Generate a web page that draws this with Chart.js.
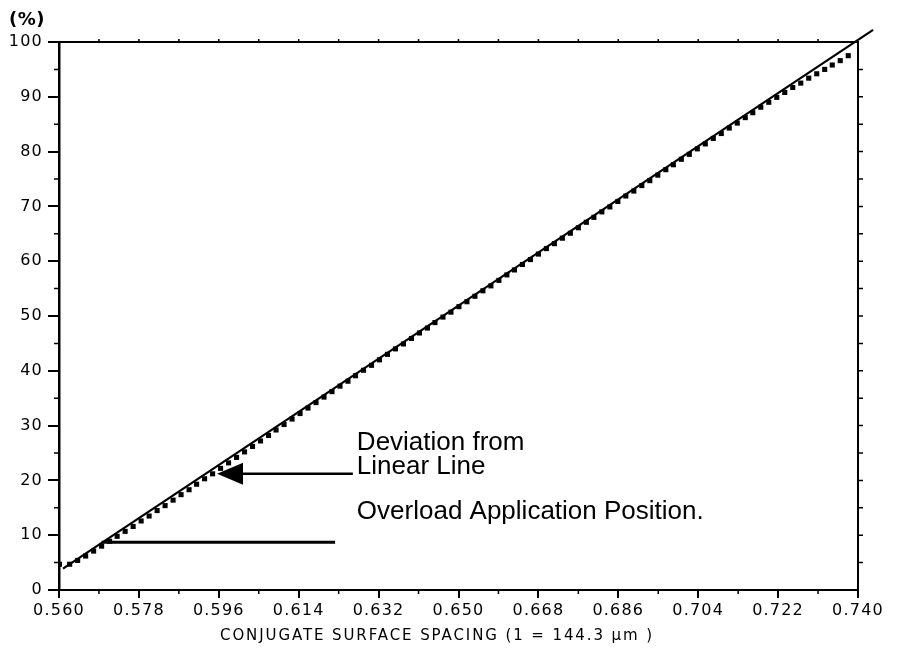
<!DOCTYPE html>
<html><head><meta charset="utf-8">
<style>html,body{margin:0;padding:0;background:#fff;}#wrap{width:899px;height:651px;}</style>
<script src="https://cdn.jsdelivr.net/npm/chart.js@4/dist/chart.umd.min.js"></script>
</head><body><div id="wrap"><canvas id="c" width="899" height="651"></canvas></div>
<script>
const xTicks = [0.560,0.578,0.596,0.614,0.632,0.650,0.668,0.686,0.704,0.722,0.740];
const xMinorTicks = [0.569,0.587,0.605,0.623,0.641,0.659,0.677,0.695,0.713,0.731];
const topTicks = [0.569,0.578,0.587,0.596,0.605,0.614,0.623,0.632,0.641,0.650,0.659,0.668,0.677,0.686,0.695,0.704,0.713,0.722,0.731];
const yTicks = [0,10,20,30,40,50,60,70,80,90,100];
const yMinorTicks = [5,15,25,35,45,55,65,75,85,95];
const rightTicks = [5,10,15,20,25,30,35,40,45,50,55,60,65,70,75,80,85,90,95];

const dotX = [0.5601,0.5624,0.5642,0.5660,0.5678,0.5696,0.5714,0.5731,0.5749,0.5767,0.5785,
0.5803,0.5821,0.5839,0.5857,0.5875,0.5893,0.5910,0.5928,0.5946,0.5964,
0.5982,0.6000,0.6018,0.6036,0.6054,0.6072,0.6089,0.6107,0.6125,0.6143,
0.6161,0.6179,0.6197,0.6215,0.6233,0.6251,0.6268,0.6286,0.6304,0.6322,
0.6340,0.6358,0.6376,0.6394,0.6412,0.6430,0.6447,0.6465,0.6483,0.6501,
0.6519,0.6537,0.6555,0.6573,0.6591,0.6609,0.6626,0.6644,0.6662,0.6680,
0.6698,0.6716,0.6734,0.6752,0.6770,0.6788,0.6805,0.6823,0.6841,0.6859,
0.6877,0.6895,0.6913,0.6931,0.6949,0.6967,0.6984,0.7002,0.7020,0.7038,
0.7056,0.7074,0.7092,0.7110,0.7128,0.7146,0.7163,0.7181,0.7199,0.7217,
0.7235,0.7253,0.7271,0.7289,0.7307,0.7325,0.7342,0.7360,0.7378];
const dotY = [4.7,4.7,5.4,6.2,7.1,8.0,8.9,9.8,10.7,11.6,
12.6,13.5,14.5,15.4,16.4,17.4,18.3,19.3,20.3,21.2,
22.2,23.2,24.2,25.2,26.2,27.2,28.2,29.2,30.2,31.2,
32.2,33.2,34.2,35.2,36.2,37.2,38.1,39.1,40.1,41.0,
42.0,43.0,44.0,44.9,45.9,46.9,47.8,48.8,49.8,50.7,
51.7,52.6,53.6,54.6,55.5,56.5,57.5,58.4,59.4,60.3,
61.3,62.3,63.2,64.2,65.1,66.1,67.1,68.0,69.0,69.9,
70.9,71.9,72.8,73.8,74.7,75.7,76.7,77.6,78.6,79.5,
80.5,81.4,82.4,83.3,84.3,85.2,86.2,87.1,88.1,89.0,
89.9,90.8,91.7,92.5,93.4,94.2,95.0,95.8,96.6,97.5];

const linearX = [0.5609, 0.7434];
const linearY = [3.9, 102.2];

const overloadX = [0.5696, 0.6222];
const overloadY = 8.7;
const arrowX = [0.5956, 0.6262];
const arrowY = 21.2;
const deviationText = ['Deviation from', 'Linear Line'];
const deviationTextX = 0.6271;
const deviationTextY = [26.9, 22.5];
const overloadText = 'Overload Application Position.';
const overloadTextY = 14.2;
const yUnit = '(%)';
const xTitle = 'CONJUGATE SURFACE SPACING (1 = 144.3 \u03bcm )';

const decor = {
  id: 'decor',
  beforeDraw(chart) { chart.ctx.letterSpacing = '1.2px'; },
  afterDraw(chart) {
    const ctx = chart.ctx, a = chart.chartArea;
    const xs = chart.scales.x, ys = chart.scales.y;
    ctx.save();
    ctx.letterSpacing = '0px';
    ctx.strokeStyle = '#000'; ctx.fillStyle = '#000';
    ctx.lineWidth = 2;
    ctx.beginPath();
    ctx.moveTo(a.left, a.top); ctx.lineTo(a.right, a.top); ctx.lineTo(a.right, a.bottom);
    ctx.stroke();
    ctx.lineWidth = 1.5;
    ctx.beginPath();
    yMinorTicks.forEach(v => { const p = ys.getPixelForValue(v); ctx.moveTo(a.left - 5, p); ctx.lineTo(a.left, p); });
    rightTicks.forEach(v => { const p = ys.getPixelForValue(v); ctx.moveTo(a.right, p); ctx.lineTo(a.right + 5, p); });
    xMinorTicks.forEach(v => { const p = xs.getPixelForValue(v); ctx.moveTo(p, a.bottom); ctx.lineTo(p, a.bottom + 4); });
    topTicks.forEach(v => { const p = xs.getPixelForValue(v); ctx.moveTo(p, a.top); ctx.lineTo(p, a.top - 3); });
    ctx.stroke();
    ctx.lineWidth = 3;
    ctx.beginPath();
    ctx.moveTo(xs.getPixelForValue(overloadX[0]), ys.getPixelForValue(overloadY));
    ctx.lineTo(xs.getPixelForValue(overloadX[1]), ys.getPixelForValue(overloadY));
    ctx.stroke();
    const tipX = xs.getPixelForValue(arrowX[0]), tailX = xs.getPixelForValue(arrowX[1]), ay = ys.getPixelForValue(arrowY);
    ctx.lineWidth = 2.5;
    ctx.beginPath(); ctx.moveTo(tipX + 20, ay); ctx.lineTo(tailX, ay); ctx.stroke();
    ctx.beginPath(); ctx.moveTo(tipX, ay); ctx.lineTo(tipX + 26, ay - 11); ctx.lineTo(tipX + 26, ay + 11); ctx.closePath(); ctx.fill();
    ctx.font = '26px "Liberation Sans", Arial, sans-serif';
    ctx.textAlign = 'left'; ctx.textBaseline = 'middle';
    const tx = xs.getPixelForValue(deviationTextX);
    deviationText.forEach((t, i) => ctx.fillText(t, tx, ys.getPixelForValue(deviationTextY[i])));
    ctx.fillText(overloadText, tx, ys.getPixelForValue(overloadTextY));
    ctx.font = 'bold 18px "DejaVu Sans", sans-serif';
    ctx.letterSpacing = '0.5px';
    ctx.fillText(yUnit, 9, 20);
    ctx.font = '15px "DejaVu Sans", sans-serif';
    ctx.letterSpacing = '1.9px';
    ctx.textAlign = 'center';
    ctx.fillText(xTitle, 437, 636);
    ctx.restore();
  }
};

new Chart(document.getElementById('c'), {
  type: 'scatter',
  data: {
    datasets: [
      {
        type: 'line',
        data: linearX.map((x, i) => ({x, y: linearY[i]})),
        borderColor: '#000', borderWidth: 2.2, pointRadius: 0, clip: false, order: 2
      },
      {
        data: dotX.map((x, i) => ({x, y: dotY[i]})),
        pointStyle: 'rect', pointRadius: 3.6, backgroundColor: '#000', borderColor: '#000', borderWidth: 0, order: 1
      }
    ]
  },
  options: {
    responsive: false, animation: false, devicePixelRatio: 1,
    layout: { padding: { top: 42, right: 41, left: 0, bottom: 0 } },
    plugins: { legend: { display: false }, tooltip: { enabled: false } },
    scales: {
      x: {
        type: 'linear', min: 0.560, max: 0.740,
        afterBuildTicks: s => { s.ticks = xTicks.map(v => ({ value: v })); },
        afterFit: s => { s.height = 61; },
        ticks: { color: '#000', font: { family: 'DejaVu Sans', size: 16 }, padding: 3, maxRotation: 0, autoSkip: false,
                 callback: v => Number(v).toFixed(3) },
        grid: { display: true, drawOnChartArea: false, color: '#000', lineWidth: 2, tickLength: 8 },
        border: { display: true, color: '#000', width: 2 }
      },
      y: {
        type: 'linear', min: 0, max: 100,
        afterBuildTicks: s => { s.ticks = yTicks.map(v => ({ value: v })); },
        afterFit: s => { s.width = 59; },
        ticks: { color: '#000', font: { family: 'DejaVu Sans', size: 16 }, padding: 5, autoSkip: false },
        grid: { display: true, drawOnChartArea: false, color: '#000', lineWidth: 2, tickLength: 11 },
        border: { display: true, color: '#000', width: 2.5 }
      }
    }
  },
  plugins: [decor]
});
</script>
</body></html>
